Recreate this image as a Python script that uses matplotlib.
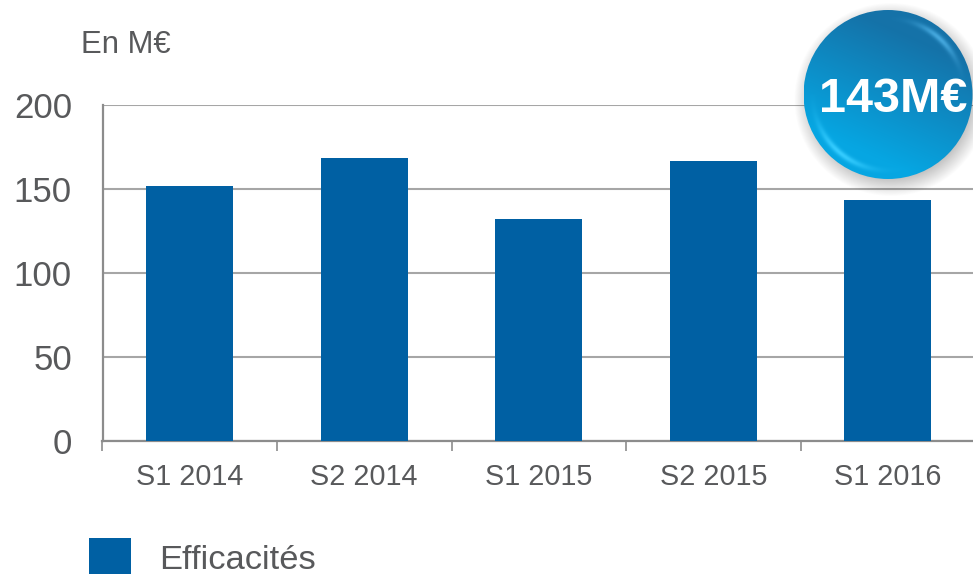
import numpy as np
import matplotlib
matplotlib.use("Agg")
import matplotlib.pyplot as plt
from matplotlib.patches import Circle

categories = ["S1 2014", "S2 2014", "S1 2015", "S2 2015", "S1 2016"]
efficacites = [151.5, 168.5, 132, 166.5, 143.5]
y_ticks = [0, 50, 100, 150, 200]
series_name = "Efficacités"
unit_label = "En M€"
badge_label = "143M€"

W, H = 973, 574
GREY = "#58595b"
LINE = "#8c8c8c"
BLUE = "#0060a3"
plt.rcParams["font.family"] = ["Liberation Sans", "DejaVu Sans"]

fig = plt.figure(figsize=(W / 100, H / 100), dpi=100, facecolor="white")
left, right, top, bottom = 102.5, 975, 105, 441
ax = fig.add_axes([left / W, 1 - bottom / H, (right - left) / W, (bottom - top) / H])
x = np.arange(len(categories))
ax.bar(x, efficacites, width=0.5, color=BLUE, edgecolor="none", zorder=3, label=series_name)
ax.set_xlim(-0.5, len(categories) - 0.5)
ax.set_ylim(0, 200)

ax.set_yticks(y_ticks)
ax.set_yticklabels([str(v) for v in y_ticks], fontsize=25, color=GREY)
ax.tick_params(axis="y", length=0, pad=22)
ax.set_xticks(x)
ax.set_xticklabels(categories, fontsize=20.7, color=GREY)
ax.set_xticks(np.arange(len(categories) + 1) - 0.5, minor=True)
ax.tick_params(axis="x", which="major", length=0, pad=16)
ax.tick_params(axis="x", which="minor", length=7, width=1.2, color=LINE, direction="out")
ax.grid(axis="y", color="#a6a6a6", linewidth=1.5, zorder=1)
ax.set_axisbelow(True)
for s in ("top", "right"):
    ax.spines[s].set_visible(False)
for s in ("left", "bottom"):
    ax.spines[s].set_color(LINE)
    ax.spines[s].set_linewidth(1.6)

fig.text(81 / W, 1 - 45 / H, unit_label, fontsize=22.4, color=GREY, va="center", ha="left")

fig.legend(
    handles=ax.containers[0].patches[:1], labels=[series_name],
    loc="lower left", bbox_to_anchor=(89 / W, -3 / H), frameon=False, fontsize=24.8,
    labelcolor=GREY, borderpad=0, borderaxespad=0, handlelength=1.22, handleheight=1.38,
    handletextpad=0.82,
)

# Badge overlay, in pixel coordinates
ov = fig.add_axes([0, 0, 1, 1], facecolor="none", zorder=5)
ov.set_xlim(0, W)
ov.set_ylim(H, 0)
ov.axis("off")
cx, cy, r = 888, 94.5, 84.5

# soft shadow
for i in range(20):
    ov.add_patch(Circle((cx + 3, cy + 5), r + 12 - i * 0.9, facecolor="black", edgecolor="none", alpha=0.010))

# glossy gradient clipped to the disc
yy, xx = np.mgrid[-1:1:340j, -1:1:340j]
rr = np.hypot(xx, yy)
t = np.clip(0.5 + 0.62 * (yy - 0.45 * xx), 0, 1)
c0 = np.array([0x15, 0x72, 0xa8]) / 255
c1 = np.array([0x06, 0xa6, 0xe2]) / 255
img = c0[None, None, :] * (1 - t[..., None]) + c1[None, None, :] * t[..., None]
ang = np.arctan2(yy, xx)
rim1 = np.exp(-((rr - 0.9) / 0.035) ** 2) * np.exp(-((ang - np.deg2rad(130)) / 0.45) ** 2)
rim2 = np.exp(-((rr - 0.9) / 0.035) ** 2) * np.exp(-((ang - np.deg2rad(-48)) / 0.35) ** 2)
hl1 = np.array([0x35, 0xcc, 0xff]) / 255
hl2 = np.array([0x45, 0xa8, 0xde]) / 255
img = img * (1 - rim1[..., None]) + hl1 * rim1[..., None]
img = img * (1 - rim2[..., None]) + hl2 * rim2[..., None]
im = ov.imshow(img, extent=(cx - r, cx + r, cy + r, cy - r), interpolation="bilinear", aspect="auto", zorder=2)
clip = Circle((cx, cy), r, transform=ov.transData)
im.set_clip_path(clip)
ov.set_xlim(0, W)
ov.set_ylim(H, 0)

ov.text(893, 100, badge_label, fontsize=34.9, fontweight="bold", color="white", ha="center", va="center", zorder=3)

fig.savefig("out.png", dpi=100)
